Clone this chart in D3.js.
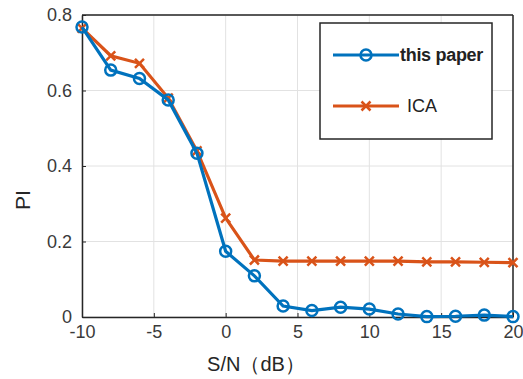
<!DOCTYPE html>
<html>
<head>
<meta charset="utf-8">
<script src="https://cdn.jsdelivr.net/npm/d3@7"></script>
<style>
  body { margin: 0; background: #fff; }
  svg { display: block; font-family: "Liberation Sans", Arial, sans-serif; }
</style>
</head>
<body>
<div id="chart"></div>
<script>
// data
var snr = [-10, -8, -6, -4, -2, 0, 2, 4, 6, 8, 10, 12, 14, 16, 18, 20];
var piPaper = [0.768, 0.654, 0.632, 0.575, 0.434, 0.174, 0.109, 0.029, 0.017, 0.026, 0.021, 0.008, 0.001, 0.002, 0.005, 0.001];
var piICA = [0.765, 0.692, 0.672, 0.580, 0.440, 0.262, 0.151, 0.148, 0.148, 0.148, 0.148, 0.148, 0.146, 0.146, 0.145, 0.144];
var xTicks = [-10, -5, 0, 5, 10, 15, 20];
var yTicks = [0, 0.2, 0.4, 0.6, 0.8];
var seriesNames = ["this paper", "ICA"];

var width = 523, height = 379;
var margin = {top: 15, right: 10, bottom: 62, left: 82};

var svg = d3.select("#chart").append("svg")
    .attr("width", width)
    .attr("height", height);

var x = d3.scaleLinear().domain([-10, 20]).range([margin.left, width - margin.right]);
var y = d3.scaleLinear().domain([0, 0.8]).range([height - margin.bottom, margin.top]);

//grid
svg.append("g").selectAll("line.gx")
    .data(xTicks).enter().append("line")
    .attr("x1", d => x(d)).attr("x2", d => x(d))
    .attr("y1", y(0)).attr("y2", y(0.8))
    .attr("stroke", "#e2e2e2").attr("stroke-width", 1);
svg.append("g").selectAll("line.gy")
    .data(yTicks).enter().append("line")
    .attr("x1", x(-10)).attr("x2", x(20))
    .attr("y1", d => y(d)).attr("y2", d => y(d))
    .attr("stroke", "#e2e2e2").attr("stroke-width", 1);

//axes (ticks inward, like matlab)
var xAxis = svg.append("g")
    .attr("transform", "translate(0," + y(0) + ")")
    .call(d3.axisBottom(x).tickValues(xTicks).tickSizeInner(-4).tickSizeOuter(0).tickPadding(8)
        .tickFormat(d => String(d)));
var yAxis = svg.append("g")
    .attr("transform", "translate(" + x(-10) + ",0)")
    .call(d3.axisLeft(y).tickValues(yTicks).tickSizeInner(-4).tickSizeOuter(0).tickPadding(10)
        .tickFormat(d => d === 0 ? "0" : d3.format(".1f")(d)));

[xAxis, yAxis].forEach(function(a) {
    a.select(".domain").attr("stroke", "#262626").attr("stroke-width", 1.5);
    a.selectAll(".tick line").attr("stroke", "#262626");
    a.selectAll(".tick text").attr("fill", "#3a3a3a").style("font-size", "18px");
});

// box top/right
svg.append("line").attr("x1", x(-10)).attr("x2", x(20)).attr("y1", y(0.8)).attr("y2", y(0.8))
    .attr("stroke", "#262626").attr("stroke-width", 1.5);
svg.append("line").attr("x1", x(20)).attr("x2", x(20)).attr("y1", y(0.8)).attr("y2", y(0))
    .attr("stroke", "#262626").attr("stroke-width", 1.5);

//axis titles
svg.append("text")
    .attr("x", 256).attr("y", 371)
    .attr("text-anchor", "middle")
    .attr("fill", "#262626")
    .style("font-size", "20px")
    .text("S/N（dB）");
svg.append("text")
    .attr("transform", "translate(30,200) rotate(-90)")
    .attr("text-anchor", "middle")
    .attr("fill", "#262626")
    .style("font-size", "21px")
    .text("PI");

var colors = ["#0072BD", "#D95319"];
var line = d3.line().x((d, i) => x(snr[i])).y(d => y(d));

function crossPath(cx, cy, r) {
    return "M" + (cx - r) + "," + (cy - r) + "L" + (cx + r) + "," + (cy + r) +
           "M" + (cx - r) + "," + (cy + r) + "L" + (cx + r) + "," + (cy - r);
}

//ICA first, paper on top
svg.append("path").datum(piICA)
    .attr("d", line).attr("fill", "none")
    .attr("stroke", colors[1]).attr("stroke-width", 3.2);
svg.append("g").selectAll("path")
    .data(piICA).enter().append("path")
    .attr("d", (d, i) => crossPath(x(snr[i]), y(d), 4.5))
    .attr("stroke", colors[1]).attr("stroke-width", 2.5);

svg.append("path").datum(piPaper)
    .attr("d", line).attr("fill", "none")
    .attr("stroke", colors[0]).attr("stroke-width", 3.2);
svg.append("g").selectAll("circle")
    .data(piPaper).enter().append("circle")
    .attr("cx", (d, i) => x(snr[i])).attr("cy", d => y(d))
    .attr("r", 5.5)
    .attr("fill", "none")
    .attr("stroke", colors[0]).attr("stroke-width", 2.5);

//legend
var legend = svg.append("g");
legend.append("rect")
    .attr("x", 320).attr("y", 23).attr("width", 172).attr("height", 116)
    .attr("fill", "#fff").attr("stroke", "#262626").attr("stroke-width", 1.5);

var legendY = [55, 106];
seriesNames.forEach(function(name, i) {
    legend.append("line")
        .attr("x1", 333).attr("x2", 399).attr("y1", legendY[i]).attr("y2", legendY[i])
        .attr("stroke", colors[i]).attr("stroke-width", 3.2);
    if (i === 0) {
        legend.append("circle").attr("cx", 366).attr("cy", legendY[i]).attr("r", 5.5)
            .attr("fill", "none").attr("stroke", colors[i]).attr("stroke-width", 2.5);
    } else {
        legend.append("path").attr("d", crossPath(366, legendY[i], 4.5))
            .attr("stroke", colors[i]).attr("stroke-width", 2.5);
    }
    legend.append("text")
        .attr("x", i === 0 ? 400 : 407).attr("y", legendY[i] + 6)
        .attr("fill", "#222")
        .style("font-size", "18px")
        .style("font-weight", i === 0 ? "bold" : "normal")
        .style("letter-spacing", i === 0 ? "-0.3px" : "0")
        .text(name);
});
</script>
</body>
</html>
